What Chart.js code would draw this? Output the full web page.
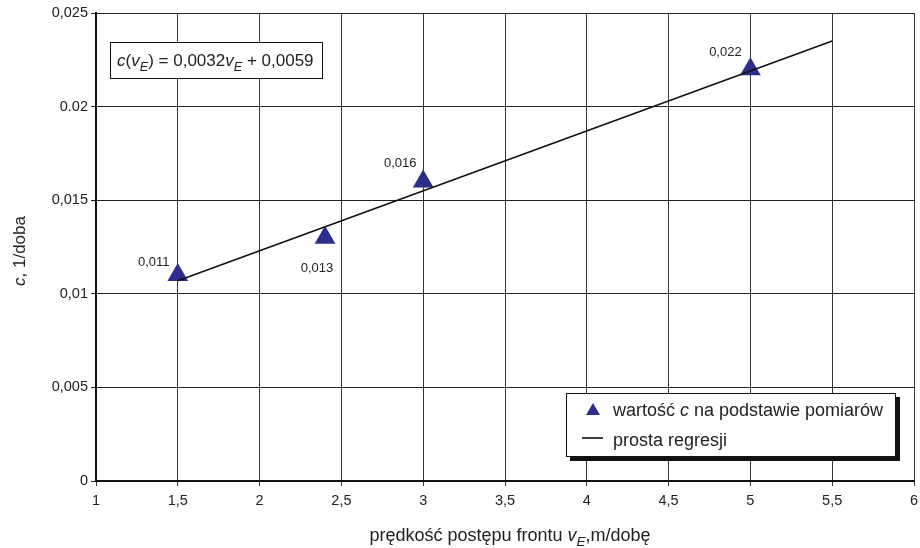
<!DOCTYPE html>
<html>
<head>
<meta charset="utf-8">
<script src="https://cdn.jsdelivr.net/npm/chart.js@4.4.1/dist/chart.umd.min.js"></script>
<style>
  html, body { margin: 0; padding: 0; background: #fff; }
  #wrap { width: 920px; height: 548px; }
</style>
</head>
<body>
<div id="wrap"><canvas id="chart" width="920" height="548"></canvas></div>
<script>
// measured points
const speedX = [1.5, 2.4, 3.0, 5.0];
const cValues = [0.011, 0.013, 0.016, 0.022];
const pointLabels = ['0,011', '0,013', '0,016', '0,022'];
// regression line ends
const regX = [1.5, 5.5];
const regY = [0.0107, 0.0235];
// axis tick labels (as printed)
const yTickText = { 0: '0', 0.005: '0,005', 0.01: '0,01', 0.015: '0,015', 0.02: '0.02', 0.025: '0,025' };
const xTickText = { 1: '1', 1.5: '1,5', 2: '2', 2.5: '2,5', 3: '3', 3.5: '3,5', 4: '4', 4.5: '4,5', 5: '5', 5.5: '5,5', 6: '6' };

const FONT = '"Liberation Sans", Arial, sans-serif';
const INK = '#222';
const MARK = '#2b2e8c';

// label offsets from the point, px
const labelOffsets = [[-24, -13], [-8, 31], [-23, -18], [-25, -17]];

// draws italic/subscript runs left to right, returns end x
function drawRuns(ctx, runs, x, y, size) {
  runs.forEach(r => {
    const s = r.sub ? size * 0.75 : size;
    ctx.font = (r.it ? 'italic ' : '') + s + 'px ' + FONT;
    ctx.fillText(r.t, x, y + (r.sub ? size * 0.3 : 0));
    x += ctx.measureText(r.t).width;
  });
  return x;
}
function runsWidth(ctx, runs, size) {
  let w = 0;
  runs.forEach(r => {
    const s = r.sub ? size * 0.75 : size;
    ctx.font = (r.it ? 'italic ' : '') + s + 'px ' + FONT;
    w += ctx.measureText(r.t).width;
  });
  return w;
}

const decorations = {
  id: 'decorations',
  afterDatasetsDraw(chart) {
    const ctx = chart.ctx;
    const meta = chart.getDatasetMeta(0);
    ctx.save();
    ctx.fillStyle = INK;
    ctx.textAlign = 'center';
    ctx.textBaseline = 'middle';
    ctx.font = '13px ' + FONT;
    meta.data.forEach((p, i) => {
      ctx.fillText(pointLabels[i], p.x + labelOffsets[i][0], p.y + labelOffsets[i][1]);
    });

    // equation box
    ctx.textAlign = 'left';
    ctx.textBaseline = 'alphabetic';
    ctx.fillStyle = '#fff';
    ctx.fillRect(110.5, 42.5, 212, 36);
    ctx.strokeStyle = '#111';
    ctx.lineWidth = 1;
    ctx.strokeRect(110.5, 42.5, 212, 36);
    ctx.fillStyle = INK;
    drawRuns(ctx, [
      { t: 'c', it: true }, { t: '(' }, { t: 'v', it: true }, { t: 'E', it: true, sub: true },
      { t: ') = 0,0032' }, { t: 'v', it: true }, { t: 'E', it: true, sub: true }, { t: ' + 0,0059' }
    ], 117, 66, 17);

    // legend box with shadow
    ctx.fillStyle = '#111';
    ctx.fillRect(570, 397, 330, 64);
    ctx.fillStyle = '#fff';
    ctx.fillRect(566, 393, 330, 64);
    ctx.strokeStyle = '#111';
    ctx.strokeRect(566.5, 393.5, 329, 63);
    ctx.fillStyle = MARK;
    ctx.beginPath();
    ctx.moveTo(593, 403);
    ctx.lineTo(600, 415);
    ctx.lineTo(586, 415);
    ctx.closePath();
    ctx.fill();
    ctx.strokeStyle = '#111';
    ctx.lineWidth = 1.6;
    ctx.beginPath();
    ctx.moveTo(582, 438);
    ctx.lineTo(603, 438);
    ctx.stroke();
    ctx.fillStyle = INK;
    drawRuns(ctx, [{ t: 'wartość ' }, { t: 'c', it: true }, { t: ' na podstawie pomiarów' }], 613, 416, 18);
    drawRuns(ctx, [{ t: 'prosta regresji' }], 613, 446, 18);

    // axis titles
    const xt = [{ t: 'prędkość postępu frontu ' }, { t: 'v', it: true }, { t: 'E', it: true, sub: true }, { t: ',m/dobę' }];
    const w = runsWidth(ctx, xt, 18);
    drawRuns(ctx, xt, 510 - w / 2, 541, 18);

    ctx.translate(25, 251);
    ctx.rotate(-Math.PI / 2);
    const yt = [{ t: 'c', it: true }, { t: ', 1/doba' }];
    const wy = runsWidth(ctx, yt, 17);
    drawRuns(ctx, yt, -wy / 2, 0, 17);
    ctx.restore();
  }
};

const ctx = document.getElementById('chart').getContext('2d');
new Chart(ctx, {
  type: 'scatter',
  data: {
    datasets: [
      {
        label: 'wartość c na podstawie pomiarów',
        data: speedX.map((x, i) => ({ x: x, y: cValues[i] })),
        pointStyle: 'triangle',
        pointRadius: 12,
        pointHoverRadius: 12,
        backgroundColor: MARK,
        borderColor: MARK,
        borderWidth: 0,
        order: 2
      },
      {
        type: 'line',
        label: 'prosta regresji',
        data: regX.map((x, i) => ({ x: x, y: regY[i] })),
        borderColor: '#111',
        borderWidth: 1.6,
        pointRadius: 0,
        showLine: true,
        fill: false,
        order: 1
      }
    ]
  },
  options: {
    responsive: false,
    animation: false,
    events: [],
    layout: { autoPadding: false, padding: { top: 13, right: 6, left: 0, bottom: 0 } },
    plugins: { legend: { display: false }, tooltip: { enabled: false } },
    scales: {
      x: {
        type: 'linear',
        min: 1, max: 6,
        afterFit(s) { s.height = 67; },
        ticks: {
          stepSize: 0.5,
          color: INK,
          padding: 0,
          maxRotation: 0,
          font: { family: FONT, size: 14.5, lineHeight: 2.1 },
          callback: v => xTickText[v] ?? ''
        },
        grid: { color: '#333', lineWidth: 1, tickLength: 5, drawTicks: true },
        border: { color: '#111', width: 2 }
      },
      y: {
        type: 'linear',
        min: 0, max: 0.025,
        afterFit(s) { s.width = 96; },
        ticks: {
          stepSize: 0.005,
          color: INK,
          padding: 3,
          font: { family: FONT, size: 14.5 },
          callback: v => yTickText[Math.round(v * 1000) / 1000] ?? ''
        },
        grid: { color: '#222', lineWidth: 1, tickLength: 5, drawTicks: true },
        border: { color: '#111', width: 2 }
      }
    }
  },
  plugins: [decorations]
});
</script>
</body>
</html>
